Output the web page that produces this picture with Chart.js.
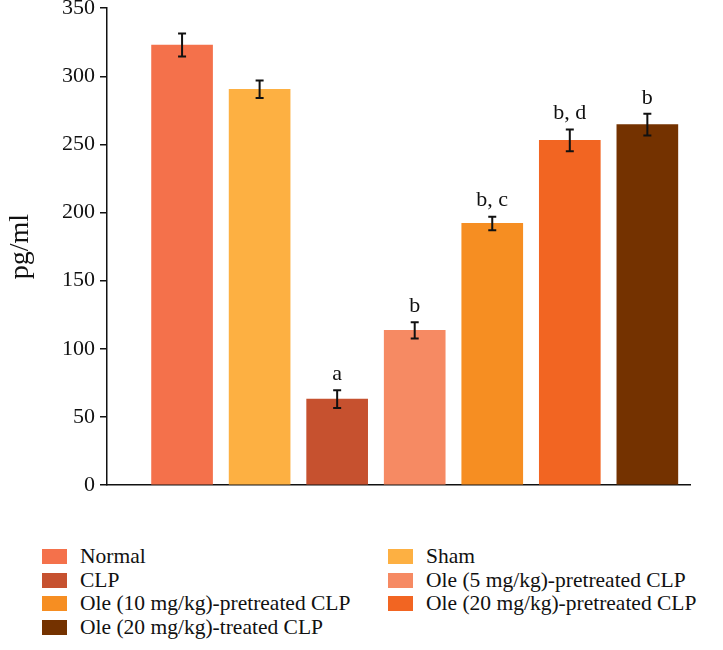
<!DOCTYPE html>
<html>
<head>
<meta charset="utf-8">
<script src="https://cdn.jsdelivr.net/npm/chart.js@4.4.1/dist/chart.umd.min.js"></script>
<style>
  body { margin: 0; background: #fff; width: 723px; height: 650px; overflow: hidden; }
  #wrap { position: relative; width: 723px; height: 504px; }
  #chart { position: absolute; left: 0; top: -10px; }
  #legend { position: absolute; left: 42px; top: 547px; width: 680px;
    display: grid; grid-template-columns: 346px 334px; row-gap: 4px;
    font-family: "Liberation Serif", serif; font-size: 21.5px; color: #111; }
  .item { display: flex; align-items: center; height: 19.5px; white-space: nowrap; }
  .box { width: 25px; height: 15px; margin-right: 13px; flex: none; }
</style>
</head>
<body>
<div id="wrap"><canvas id="chart" width="723" height="514"></canvas></div>
<div id="legend"></div>
<script>
const groups = ['Normal', 'Sham', 'CLP', 'Ole (5 mg/kg)-pretreated CLP', 'Ole (10 mg/kg)-pretreated CLP', 'Ole (20 mg/kg)-pretreated CLP', 'Ole (20 mg/kg)-treated CLP'];
const values = [323, 290.5, 63, 113.5, 192, 253, 264.5];
const errors = [8.5, 6.5, 6.5, 6, 5, 8, 8];
const letters = ['', '', 'a', 'b', 'b, c', 'b, d', 'b'];
const colors = ['#F4714B', '#FDB042', '#C6512F', '#F68A63', '#F68E22', '#F26522', '#743200'];
const yTicks = [0, 50, 100, 150, 200, 250, 300, 350];

const serif = '"Liberation Serif", serif';

const errorBars = {
    id: 'errorBars',
    afterDatasetsDraw(chart) {
        const ctx = chart.ctx;
        const y = chart.scales.y;
        const meta = chart.getDatasetMeta(0);
        ctx.save();
        ctx.strokeStyle = '#111';
        ctx.lineWidth = 2;
        meta.data.forEach((bar, i) => {
            const top = y.getPixelForValue(values[i] + errors[i]);
            const bot = y.getPixelForValue(values[i] - errors[i]);
            ctx.beginPath();
            ctx.moveTo(bar.x, top); ctx.lineTo(bar.x, bot);
            ctx.moveTo(bar.x - 4, top); ctx.lineTo(bar.x + 4, top);
            ctx.moveTo(bar.x - 4, bot); ctx.lineTo(bar.x + 4, bot);
            ctx.stroke();
            if (letters[i]) {
                ctx.fillStyle = '#111';
                ctx.font = '22px ' + serif;
                ctx.textAlign = 'center';
                ctx.textBaseline = 'bottom';
                ctx.fillText(letters[i], bar.x, top - 5);
            }
        });
        ctx.restore();
    }
};

new Chart(document.getElementById('chart'), {
    type: 'bar',
    data: {
        datasets: [{
            data: values.map((v, i) => ({ x: i, y: v })),
            backgroundColor: colors,
            barThickness: 61
        }]
    },
    plugins: [errorBars],
    options: {
        responsive: false,
        animation: false,
        layout: { padding: { right: 33 } },
        plugins: { legend: { display: false }, tooltip: { enabled: false } },
        scales: {
            x: {
                type: 'linear',
                offset: false,
                min: -0.968,
                max: 6.55,
                grid: { display: false },
                ticks: { display: false },
                border: { color: '#111', width: 1.5 },
                afterFit(scale) { scale.height = 19; }
            },
            y: {
                min: 0,
                max: 350,
                afterBuildTicks(scale) { scale.ticks = yTicks.map(v => ({ value: v })); },
                grid: { drawOnChartArea: false, tickLength: 7, color: '#111', lineWidth: 1.5 },
                border: { color: '#111', width: 1.5 },
                ticks: { color: '#111', font: { family: serif, size: 22 }, padding: 5 },
                title: { display: true, text: 'pg/ml', color: '#111', font: { family: serif, size: 28 }, padding: { bottom: 14 } },
                afterFit(scale) { scale.width = 107; }
            }
        }
    }
});

const legend = document.getElementById('legend');
// two columns, filled row by row
groups.forEach((g, i) => {
    const item = document.createElement('div');
    item.className = 'item';
    item.innerHTML = '<span class="box" style="background:' + colors[i] + '"></span><span>' + g + '</span>';
    legend.appendChild(item);
});
</script>
</body>
</html>
